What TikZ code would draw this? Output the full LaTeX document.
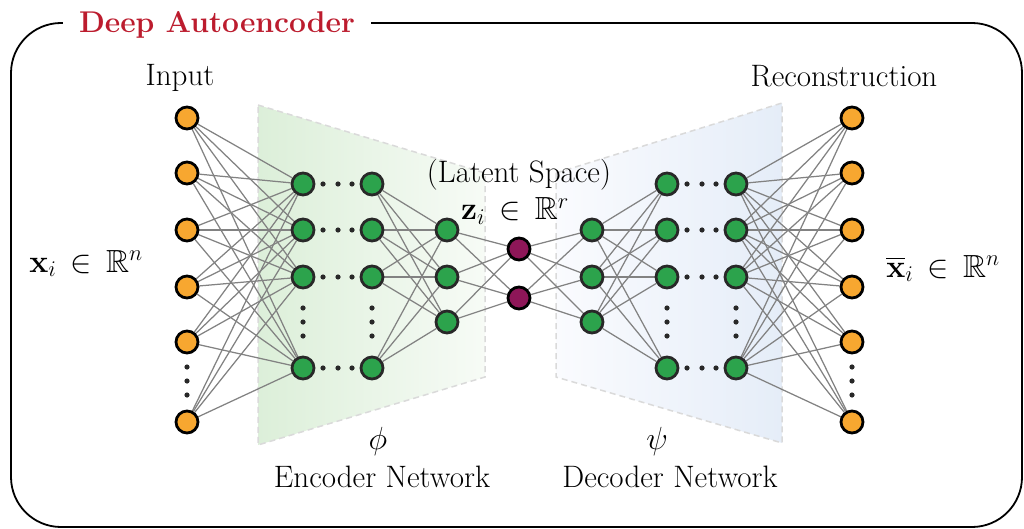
\RequirePackage{fix-cm}
\documentclass[tikz,border=0pt]{standalone}
\usepackage{amssymb}
\usetikzlibrary{calc}
\definecolor{orangec}{RGB}{247,167,48}
\definecolor{greenc}{RGB}{44,163,76}
\definecolor{latc}{RGB}{142,22,88}
\definecolor{darkc}{RGB}{40,40,40}
\definecolor{edgec}{RGB}{130,130,130}
\definecolor{dotcol}{RGB}{40,40,40}
\definecolor{titlered}{RGB}{188,28,46}
\definecolor{encL}{RGB}{220,239,217}
\definecolor{encR}{RGB}{247,251,246}
\definecolor{decL}{RGB}{250,251,254}
\definecolor{decR}{RGB}{229,237,248}
\definecolor{dashc}{RGB}{218,218,218}
\pgfdeclarelayer{shadel}
\pgfdeclarelayer{edgel}
\pgfsetlayers{shadel,edgel,main}
\begin{document}
\begin{tikzpicture}[x=1pt,y=-1pt,
  neuron/.style={circle, minimum size=22pt, inner sep=0pt, line width=2.8pt},
  inp/.style={neuron, draw=black, fill=orangec},
  hid/.style={neuron, draw=darkc, fill=greenc},
  lat/.style={neuron, draw=black, fill=latc},
  conn/.style={draw=edgec, line width=1.25pt},
  lbl/.style={font=\fontsize{31}{35}\selectfont, inner sep=0pt, anchor=base},
  mlbl/.style={font=\fontsize{32}{36}\selectfont, inner sep=0pt, anchor=base},
  trap/.style={draw=dashc, line width=1.5pt, dash pattern=on 6pt off 4pt},
  frame/.style={draw=black, line width=1.8pt, rounded corners=50pt}
]
\useasboundingbox (0,0) rectangle (1024,529);

% frame
\draw[frame] (11,23) rectangle (1022,527);

% title
\node[fill=white, text=titlered, font=\fontsize{30}{34}\selectfont\bfseries,
      inner xsep=16pt, inner ysep=12pt, anchor=base] (title) at (217,33) {Deep Autoencoder};

% neurons
\foreach \y [count=\i] in {118,173,230,287,342,422}
  \node[inp] (in\i) at (187,\y) {};
\foreach \y [count=\i] in {118,173,230,287,342,422}
  \node[inp] (out\i) at (852,\y) {};
\foreach \y [count=\i] in {184,230,277,368} {
  \node[hid] (ea\i) at (303,\y) {};
  \node[hid] (eb\i) at (372,\y) {};
  \node[hid] (db\i) at (667,\y) {};
  \node[hid] (dc\i) at (736,\y) {};
}
\foreach \y [count=\i] in {230,277,322} {
  \node[hid] (ec\i) at (447,\y) {};
  \node[hid] (da\i) at (592,\y) {};
}
\node[lat] (z1) at (519,249) {};
\node[lat] (z2) at (519,298) {};

% dots
\foreach \y in {367,381,395} {
  \fill[dotcol] (187,\y) circle (2.6pt);
  \fill[dotcol] (852,\y) circle (2.6pt);
}
\foreach \y in {308,322,336} {
  \fill[dotcol] (303,\y) circle (2.6pt);
  \fill[dotcol] (372,\y) circle (2.6pt);
  \fill[dotcol] (667,\y) circle (2.6pt);
  \fill[dotcol] (736,\y) circle (2.6pt);
}
\foreach \y in {184,230,277,368} {
  \foreach \x in {323,338,352,687,702,716}
    \fill[dotcol] (\x,\y) circle (2.6pt);
}

% shaded regions
\begin{pgfonlayer}{shadel}
  \shade[left color=encL, right color=encR] (258,105) -- (485,173) -- (485,377) -- (258,445) -- cycle;
  \draw[trap] (258,105) -- (485,173) -- (485,377) -- (258,445) -- cycle;
  \shade[left color=decL, right color=decR] (556,173) -- (782,103) -- (782,443) -- (556,377) -- cycle;
  \draw[trap] (556,173) -- (782,103) -- (782,443) -- (556,377) -- cycle;
\end{pgfonlayer}

% connections
\begin{pgfonlayer}{edgel}
  \foreach \i in {1,...,6} \foreach \j in {1,...,4} {
    \draw[conn] (in\i) -- (ea\j);
    \draw[conn] (dc\j) -- (out\i);
  }
  \foreach \i in {1,...,4} \foreach \j in {1,...,3} {
    \draw[conn] (eb\i) -- (ec\j);
    \draw[conn] (da\j) -- (db\i);
  }
  \foreach \i in {1,...,3} \foreach \j in {1,2} {
    \draw[conn] (ec\i) -- (z\j);
    \draw[conn] (z\j) -- (da\i);
  }
\end{pgfonlayer}

% labels
\node[lbl] (linput) at (180,86) {Input};
\node[lbl] (lrec) at (844,87) {Reconstruction};
\node[lbl] (llat) at (519,183) {(Latent Space)};
\node[mlbl] (lz) at (515,220) {$\mathbf{z}_i\,\in\,\mathbb{R}^r$};
\node[mlbl] (lx) at (86,272) {$\mathbf{x}_i\,\in\,\mathbb{R}^n$};
\node[mlbl] (lxb) at (943,277) {$\overline{\mathbf{x}}_i\,\in\,\mathbb{R}^n$};
\node[mlbl] (lphi) at (378,449) {$\phi$};
\node[mlbl] (lpsi) at (657,449) {$\psi$};
\node[lbl] (lenc) at (382,487) {Encoder Network};
\node[lbl] (ldec) at (670,487) {Decoder Network};
\end{tikzpicture}
\end{document}
